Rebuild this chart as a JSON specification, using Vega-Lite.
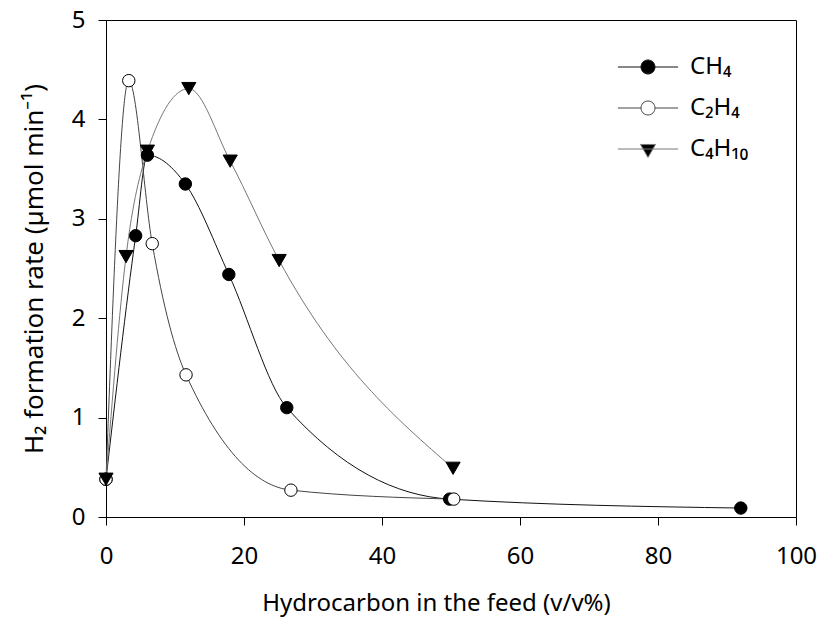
{
  "$schema": "https://vega.github.io/schema/vega-lite/v6.json",
  "width": 690,
  "height": 497,
  "autosize": {"type": "none"},
  "padding": {"left": 106, "top": 20, "right": 24, "bottom": 102},
  "background": "white",
  "config": {
    "view": {"stroke": "black", "strokeWidth": 1},
    "font": "Noto Sans",
    "axis": {
      "grid": false,
      "domainColor": "black",
      "tickColor": "black",
      "labelColor": "black",
      "titleColor": "black",
      "labelFont": "Noto Sans",
      "titleFont": "Noto Sans",
      "labelFontSize": 24,
      "titleFontSize": 24,
      "titleFontWeight": "normal",
      "tickSize": 8,
      "domainWidth": 1,
      "tickWidth": 1
    }
  },
  "data": {
    "values": [
      {"gas": "CH4", "hc": 0, "rate": 0.38},
      {"gas": "CH4", "hc": 4.3, "rate": 2.83},
      {"gas": "CH4", "hc": 6.0, "rate": 3.64},
      {"gas": "CH4", "hc": 11.5, "rate": 3.35},
      {"gas": "CH4", "hc": 17.8, "rate": 2.44},
      {"gas": "CH4", "hc": 26.2, "rate": 1.10},
      {"gas": "CH4", "hc": 49.8, "rate": 0.18},
      {"gas": "CH4", "hc": 92.0, "rate": 0.09},
      {"gas": "C2H4", "hc": 0, "rate": 0.38},
      {"gas": "C2H4", "hc": 3.3, "rate": 4.39},
      {"gas": "C2H4", "hc": 6.7, "rate": 2.75},
      {"gas": "C2H4", "hc": 11.6, "rate": 1.43},
      {"gas": "C2H4", "hc": 26.8, "rate": 0.27},
      {"gas": "C2H4", "hc": 50.4, "rate": 0.18},
      {"gas": "C4H10", "hc": 0, "rate": 0.38},
      {"gas": "C4H10", "hc": 2.9, "rate": 2.62},
      {"gas": "C4H10", "hc": 6.0, "rate": 3.68},
      {"gas": "C4H10", "hc": 12.0, "rate": 4.31},
      {"gas": "C4H10", "hc": 18.0, "rate": 3.58},
      {"gas": "C4H10", "hc": 25.1, "rate": 2.58},
      {"gas": "C4H10", "hc": 50.3, "rate": 0.49}
    ]
  },
  "layer": [
    {
      "mark": {"type": "line", "interpolate": "monotone", "strokeWidth": 1},
      "encoding": {
        "x": {
          "field": "hc",
          "type": "quantitative",
          "scale": {"domain": [0, 100], "nice": false, "zero": false},
          "axis": {
            "values": [0, 20, 40, 60, 80, 100],
            "format": "d",
            "title": "Hydrocarbon in the feed (v/v%)",
            "labelPadding": 19,
            "labelFlush": false,
            "titleY": 93,
            "titleX": 330,
            "titleAlign": "center",
            "titleBaseline": "alphabetic"
          }
        },
        "y": {
          "field": "rate",
          "type": "quantitative",
          "scale": {"domain": [0, 5], "nice": false},
          "axis": {
            "values": [0, 1, 2, 3, 4, 5],
            "format": "d",
            "title": "H₂ formation rate (µmol min⁻¹)",
            "labelPadding": 13,
            "labelFlush": false,
            "titleX": -64,
            "titleBaseline": "alphabetic",
            "titleFontSize": 26
          }
        },
        "color": {
          "field": "gas",
          "type": "nominal",
          "scale": {"domain": ["CH4", "C2H4", "C4H10"], "range": ["#111111", "#444444", "#777777"]}
        }
      }
    },
    {
      "transform": [{"filter": "datum.gas == 'CH4'"}],
      "mark": {"type": "point", "shape": "circle", "filled": true, "fill": "black", "stroke": "black", "strokeWidth": 1, "size": 154, "opacity": 1},
      "encoding": {
        "x": {"field": "hc", "type": "quantitative"},
        "y": {"field": "rate", "type": "quantitative"}
      }
    },
    {
      "transform": [{"filter": "datum.gas == 'C2H4'"}],
      "mark": {"type": "point", "shape": "circle", "filled": true, "fill": "white", "stroke": "black", "strokeWidth": 1, "size": 154, "opacity": 1},
      "encoding": {
        "x": {"field": "hc", "type": "quantitative"},
        "y": {"field": "rate", "type": "quantitative"}
      }
    },
    {
      "transform": [{"filter": "datum.gas == 'C4H10'"}],
      "mark": {"type": "point", "shape": "triangle-down", "filled": true, "fill": "black", "stroke": "black", "strokeWidth": 1, "size": 200, "opacity": 1},
      "encoding": {
        "x": {"field": "hc", "type": "quantitative"},
        "y": {"field": "rate", "type": "quantitative"}
      }
    },
    {
      "transform": [{"filter": "false"}],
      "mark": {"type": "point", "filled": true, "stroke": "black", "strokeWidth": 1},
      "encoding": {
        "x": {"field": "hc", "type": "quantitative"},
        "y": {"field": "rate", "type": "quantitative"},
        "shape": {
          "field": "gas",
          "type": "nominal",
          "scale": {
            "domain": ["CH4", "C2H4", "C4H10"],
            "range": [
              "M -4.3 0 L -1 0 M 1 0 L 4.3 0 M 1 0 A 1 1 0 1 1 -1 0 A 1 1 0 1 1 1 0 Z",
              "M -4.3 0 L -1 0 M 1 0 L 4.3 0 M 1 0 A 1 1 0 1 1 -1 0 A 1 1 0 1 1 1 0 Z",
              "M -4.3 0 L 4.3 0 M -1.07 -0.65 L 1.07 -0.65 L 0 1.2 Z"
            ]
          },
          "legend": {
            "orient": "none",
            "legendX": 530,
            "legendY": 35,
            "title": null,
            "padding": 0,
            "symbolSize": 196,
            "symbolStrokeWidth": 1,
            "symbolOpacity": 1,
            "labelFont": "Noto Sans",
            "labelFontSize": 24,
            "labelColor": "black",
            "labelOffset": 30,
            "rowPadding": 17,
            "labelExpr": "datum.value == 'CH4' ? 'CH₄' : datum.value == 'C2H4' ? 'C₂H₄' : 'C₄H₁₀'"
          }
        },
        "fill": {
          "field": "gas",
          "type": "nominal",
          "scale": {"domain": ["CH4", "C2H4", "C4H10"], "range": ["black", "white", "black"]}
        }
      }
    }
  ]
}
